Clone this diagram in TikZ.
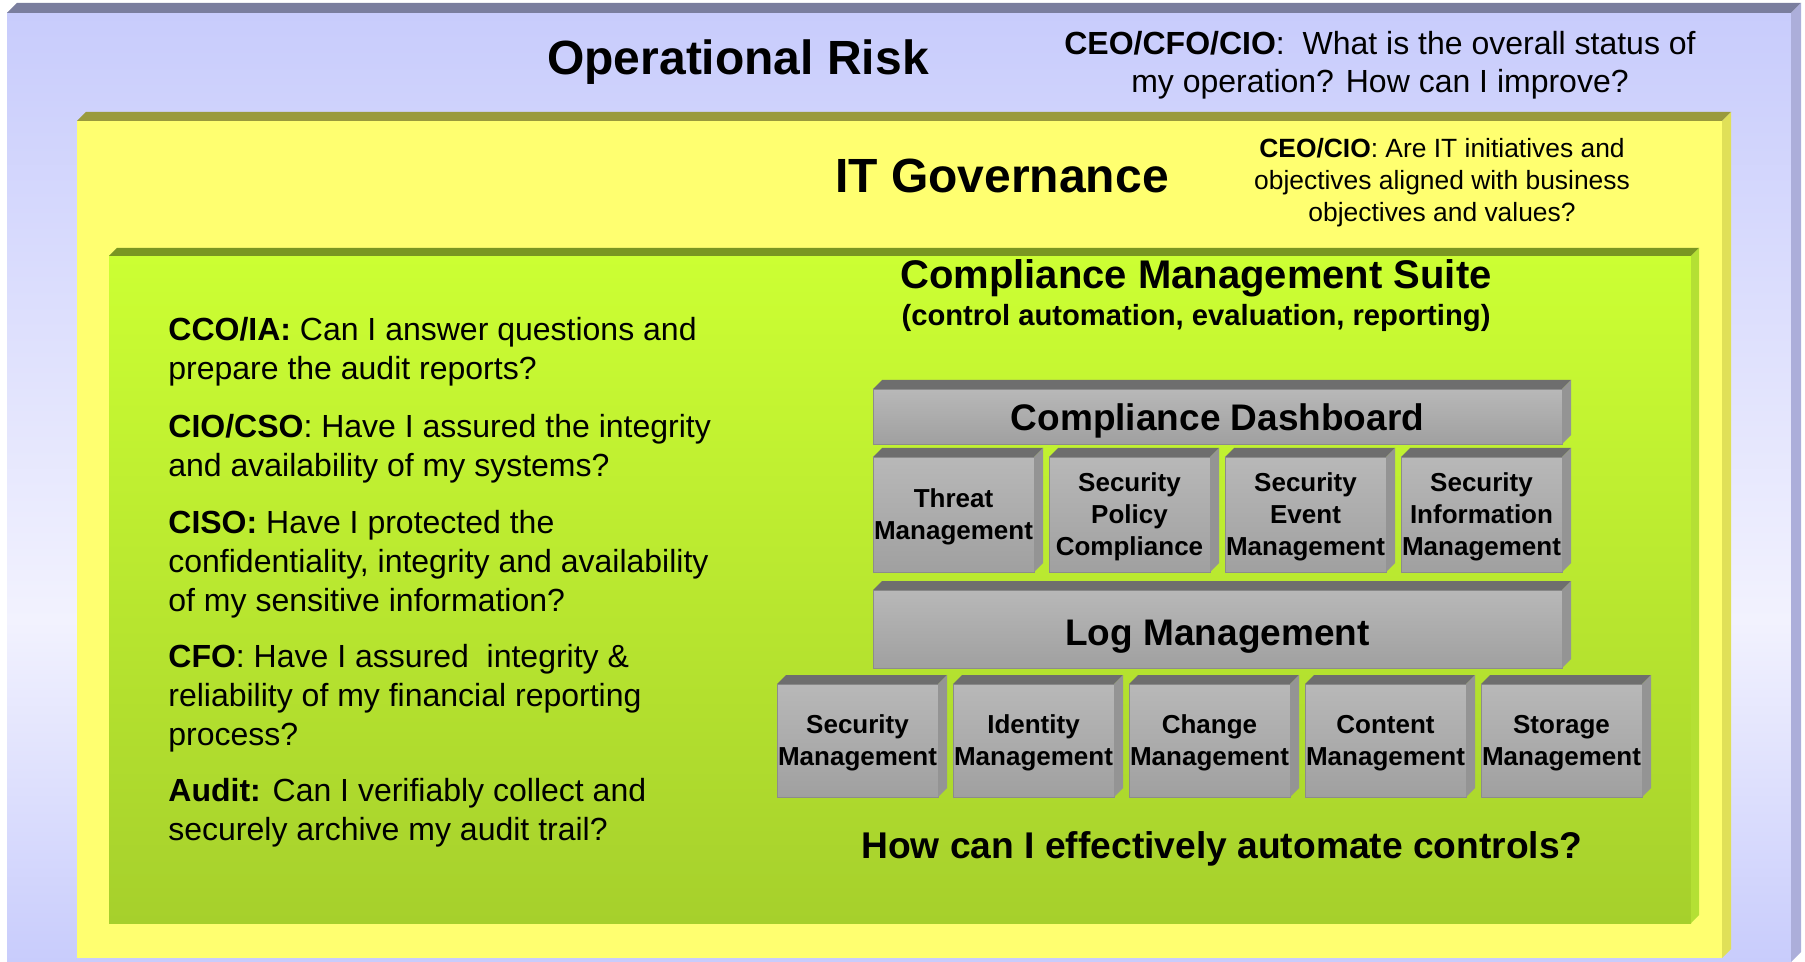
\documentclass[tikz,border=0pt]{standalone}
\usepackage{fontspec}
\setmainfont{Liberation Sans}
\usetikzlibrary{positioning}

\definecolor{riskblue}{HTML}{C8CCFC}
\definecolor{riskpale}{HTML}{F2F2FE}
\definecolor{risktop}{HTML}{7A7E9E}
\definecolor{riskside}{HTML}{ACAEDA}
\definecolor{govyellow}{HTML}{FFFF70}
\definecolor{govtop}{HTML}{9A9A3C}
\definecolor{govside}{HTML}{E0E058}
\definecolor{cmsgreen}{HTML}{CCFF33}
\definecolor{cmsgreenlow}{HTML}{A6D02C}
\definecolor{cmstop}{HTML}{7A9622}
\definecolor{cmsside}{HTML}{B4E034}
\definecolor{boxhi}{HTML}{B8B8B8}
\definecolor{boxlo}{HTML}{A0A0A0}
\definecolor{boxtop}{HTML}{6E6E6E}
\definecolor{boxside}{HTML}{949494}
\definecolor{boxline}{HTML}{8C8C8C}

\pgfdeclareverticalshading{riskshade}{100bp}{color(0bp)=(riskblue); color(25bp)=(riskblue); color(43bp)=(riskpale); color(75bp)=(riskblue); color(100bp)=(riskblue)}

\tikzset{
  wall/.style={inner sep=0pt, outer sep=0pt, anchor=north west},
  grybox/.style={draw=boxline, line width=0.4pt, top color=boxhi, bottom color=boxlo, inner sep=0pt, outer sep=0pt, text depth=0pt, align=center, font=\fontsize{13}{16}\selectfont\bfseries},
  smallbox/.style={grybox, minimum width=80.5pt},
  widebox/.style={grybox, minimum width=344.5pt, font=\fontsize{18.5}{22}\selectfont\bfseries},
  headline/.style={inner sep=0pt, font=\fontsize{24}{29}\selectfont\bfseries},
  question/.style={inner sep=0pt, align=left, anchor=west, font=\fontsize{16}{19.5}\selectfont},
}

\begin{document}
\begin{tikzpicture}[x=0.5pt,y=-0.5pt]
\useasboundingbox (0,0) rectangle (1805,962);
\node[wall, shade, shading=riskshade, minimum width=892pt, minimum height=474.5pt] (risk) at (7,13) {};
\node[wall, fill=govyellow, minimum width=822.5pt, minimum height=418.5pt] (gov) at (77,121) {};
\node[wall, top color=cmsgreen, bottom color=cmsgreenlow, minimum width=791pt, minimum height=333.5pt] (cms) at (109,256) {};

\node[widebox, minimum height=27.5pt, text height=14.2pt, anchor=north west] (dash) at (873,389) {Compliance Dashboard};
\node[smallbox, minimum height=57.5pt, anchor=north west] (threat) at (873,457) {Threat\\Management};
\node[smallbox, minimum height=57.5pt, right=7.5pt of threat] (policy) {Security\\Policy\\Compliance};
\node[smallbox, minimum height=57.5pt, right=7.5pt of policy] (event) {Security\\Event\\Management};
\node[smallbox, minimum height=57.5pt, right=7.5pt of event] (info) {Security\\Information\\Management};
\node[widebox, minimum height=39pt, text height=16.5pt, anchor=north west] (logm) at (873,590) {Log Management};
\node[smallbox, minimum height=56.5pt, anchor=north west] (secm) at (777,684) {Security\\Management};
\node[smallbox, minimum height=56.5pt, right=7.5pt of secm] (identm) {Identity\\Management};
\node[smallbox, minimum height=56.5pt, right=7.5pt of identm] (chgm) {Change\\Management};
\node[smallbox, minimum height=56.5pt, right=7.5pt of chgm] (contm) {Content\\Management};
\node[smallbox, minimum height=56.5pt, right=7.5pt of contm] (storm) {Storage\\Management};

\foreach \n/\d/\t/\s in {risk/10/risktop/riskside, gov/9/govtop/govside, cms/8/cmstop/cmsside,
    dash/9/boxtop/boxside, threat/9/boxtop/boxside, policy/9/boxtop/boxside, event/9/boxtop/boxside,
    info/9/boxtop/boxside, logm/9/boxtop/boxside, secm/9/boxtop/boxside, identm/9/boxtop/boxside,
    chgm/9/boxtop/boxside, contm/9/boxtop/boxside, storm/9/boxtop/boxside} {
  \fill[\t] (\n.north west) -- ([shift={(\d,-\d)}]\n.north west) -- ([shift={(\d,-\d)}]\n.north east) -- (\n.north east) -- cycle;
  \fill[\s] (\n.north east) -- ([shift={(\d,-\d)}]\n.north east) -- ([shift={(\d,-\d)}]\n.south east) -- (\n.south east) -- cycle;
}

\node[headline] (risktitle) at (738,62) {Operational Risk};
\node[inner sep=0pt, align=center, font=\fontsize{16}{19}\selectfont] (riskq) at (1380,65) {\textbf{CEO/CFO/CIO}:\ \ What is the overall status of\\my operation? How can I improve?};
\node[headline] (govtitle) at (1002,176) {IT Governance};
\node[inner sep=0pt, align=center, font=\fontsize{13.2}{16}\selectfont] (govq) at (1442,183) {\textbf{CEO/CIO}: Are IT initiatives and\\objectives aligned with business\\objectives and values?};
\node[inner sep=0pt, font=\fontsize{20}{24}\selectfont\bfseries] (cmstitle) at (1196,278) {Compliance Management Suite};
\node[inner sep=0pt, font=\fontsize{14.6}{17}\selectfont\bfseries] (cmssub) at (1196,318) {(control automation, evaluation, reporting)};

\node[question] (ccoq) at (168,351.5) {\textbf{CCO/IA:} Can I answer questions and\\prepare the audit reports?};
\node[question] (cioq) at (168,448.5) {\textbf{CIO/CSO}: Have I assured the integrity\\and availability of my systems?};
\node[question] (cisoq) at (168,564) {\textbf{CISO:} Have I protected the\\confidentiality, integrity and availability\\of my sensitive information?};
\node[question] (cfoq) at (168,698.5) {\textbf{CFO}: Have I assured\ \ integrity \&\\reliability of my financial reporting\\process?};
\node[question] (auditq) at (168,813) {\textbf{Audit:} Can I verifiably collect and\\securely archive my audit trail?};

\node[inner sep=0pt, font=\fontsize{18.6}{22}\selectfont\bfseries] (howq) at (1222,849) {How can I effectively automate controls?};
\end{tikzpicture}
\end{document}
